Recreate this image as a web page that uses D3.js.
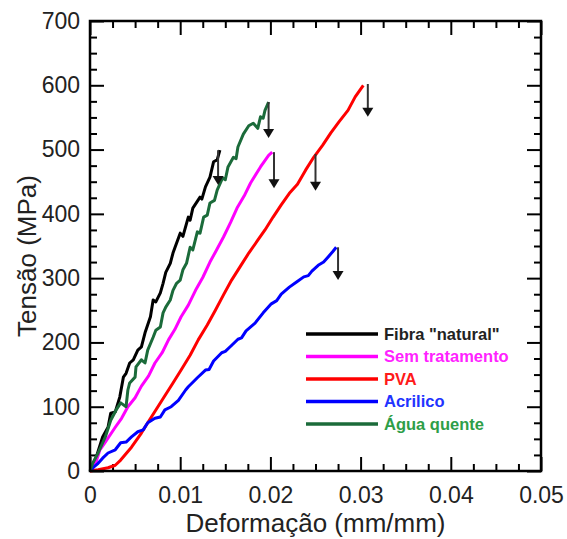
<!DOCTYPE html>
<html>
<head>
  <meta charset="utf-8">
  <title>Tensão x Deformação</title>
  <script src="https://d3js.org/d3.v7.min.js"></script>
  <style>
    body { margin: 0; background: #fff; }
    .axis text { font-family: "Liberation Sans", Arial, sans-serif; font-size: 23px; fill: #222; }
    .axis path { display: none; }
    .axis line { stroke: #000; stroke-width: 2; }
    .title { font-family: "Liberation Sans", Arial, sans-serif; font-size: 26px; fill: #222; }
    .legend text { font-family: "Liberation Sans", Arial, sans-serif; font-size: 16.5px; font-weight: bold; }
  </style>
</head>
<body>
  <svg id="chart"></svg>

  <script>
    // Series: [strain (mm/mm), stress (MPa)]
    const natural = [
      [0, 0], [0.0001, 2], [0.0007, 22], [0.0014, 53], [0.002, 68], [0.0023, 90],
      [0.0028, 92], [0.0033, 115], [0.0037, 146], [0.004, 152], [0.0044, 168],
      [0.0048, 173], [0.0053, 188], [0.0057, 193], [0.0061, 215], [0.0067, 240],
      [0.007, 266], [0.0073, 263], [0.0078, 277], [0.0081, 292], [0.0084, 309],
      [0.0089, 323], [0.0092, 339], [0.0094, 347], [0.01, 370], [0.0103, 365],
      [0.0109, 395], [0.0111, 390], [0.0114, 409], [0.0122, 426], [0.0124, 423],
      [0.0128, 442], [0.0133, 457], [0.0137, 481], [0.0141, 484], [0.0144, 499]
    ];
    const semTratamento = [
      [0, 0], [0.0006, 11], [0.0011, 33], [0.0017, 45], [0.0028, 68], [0.0035, 82],
      [0.0042, 100], [0.005, 114], [0.0057, 132], [0.0065, 148], [0.0072, 168],
      [0.008, 184], [0.0087, 204], [0.0094, 220], [0.0101, 240], [0.0109, 258],
      [0.0117, 281], [0.0125, 301], [0.0133, 325], [0.014, 343], [0.0148, 364],
      [0.0156, 387], [0.0163, 409], [0.0171, 428], [0.0178, 448], [0.0189, 473],
      [0.0198, 491], [0.0202, 496]
    ];
    const pva = [
      [0, 0], [0.0009, 2], [0.002, 5], [0.0028, 9], [0.0034, 17], [0.0046, 37],
      [0.0057, 59], [0.0064, 75], [0.0073, 95], [0.0083, 117], [0.0092, 137],
      [0.0101, 157], [0.0111, 180], [0.012, 204], [0.013, 227], [0.0139, 250],
      [0.0148, 274], [0.0157, 297], [0.0167, 319], [0.0176, 339], [0.0186, 359],
      [0.0194, 375], [0.0203, 395], [0.0212, 414], [0.0221, 432], [0.023, 446],
      [0.0239, 468], [0.0248, 488], [0.0258, 507], [0.0267, 526], [0.0276, 543],
      [0.0286, 561], [0.0294, 582], [0.0303, 600]
    ];
    const acrilico = [
      [0, 0], [0.0004, 6], [0.0009, 12], [0.0014, 20], [0.002, 28], [0.0028, 33],
      [0.0034, 44], [0.004, 45], [0.0046, 53], [0.0053, 61], [0.0059, 64],
      [0.0064, 75], [0.0072, 82], [0.0078, 84], [0.0083, 95], [0.009, 100],
      [0.0098, 110], [0.0106, 126], [0.0109, 131], [0.0119, 145], [0.0128, 157],
      [0.0132, 158], [0.0137, 171], [0.0146, 184], [0.015, 186], [0.0156, 194],
      [0.0164, 205], [0.0168, 207], [0.0173, 218], [0.0183, 230], [0.0192, 246],
      [0.0201, 260], [0.0207, 265], [0.0212, 275], [0.0221, 286], [0.0229, 294],
      [0.0237, 302], [0.0242, 304], [0.0246, 311], [0.0253, 320], [0.0259, 325],
      [0.0264, 333], [0.0269, 341], [0.0273, 348]
    ];
    const aguaQuente = [
      [0, 0], [0.0003, 12], [0.0009, 28], [0.0017, 53], [0.0023, 79], [0.0029, 95],
      [0.0034, 106], [0.004, 100], [0.0042, 126], [0.0044, 137], [0.005, 146],
      [0.0051, 162], [0.0057, 173], [0.0061, 168], [0.0064, 188], [0.007, 208],
      [0.0073, 219], [0.0078, 224], [0.0081, 246], [0.0084, 255], [0.0089, 266],
      [0.0092, 281], [0.0096, 292], [0.01, 297], [0.0103, 313], [0.0107, 323],
      [0.0111, 348], [0.0114, 344], [0.0119, 372], [0.0122, 370], [0.0126, 395],
      [0.013, 398], [0.0133, 417], [0.0138, 421], [0.0141, 437], [0.0147, 456],
      [0.015, 453], [0.0153, 473], [0.0159, 488], [0.0162, 486], [0.0164, 504],
      [0.017, 524], [0.0176, 537], [0.0181, 541], [0.0186, 533], [0.0189, 551],
      [0.0192, 549], [0.0194, 561], [0.0198, 574]
    ];

    const seriesNames = ["Fibra \"natural\"", "Sem tratamento", "PVA", "Acrilico", "Água quente"];
    const seriesData = [natural, semTratamento, pva, acrilico, aguaQuente];
    const lineColors = ["#000000", "#ff00ff", "#ff0000", "#0000ff", "#1b6b3a"];
    const textColors = ["#222222", "#ff22ff", "#ff1a1a", "#2233ff", "#2e9e48"];

    // Failure arrows: strain, top stress, bottom stress
    const arrowX = [0.0142, 0.0204, 0.0198, 0.025, 0.0308, 0.0275];
    const arrowTop = [499, 496, 574, 493, 602, 348];
    const arrowBottom = [445, 440, 518, 436, 551, 297];

    const xTicks = [0, 0.01, 0.02, 0.03, 0.04, 0.05];
    const yTicks = [0, 100, 200, 300, 400, 500, 600, 700];

    const width = 567, height = 539;
    const margin = { top: 21, right: 26, bottom: 68, left: 90 };
    const w = width - margin.left - margin.right;
    const h = height - margin.top - margin.bottom;

    const svg = d3.select("#chart").attr("width", width).attr("height", height);
    const g = svg.append("g").attr("transform", `translate(${margin.left},${margin.top})`);

    const x = d3.scaleLinear().domain([0, 0.05]).range([0, w]);
    const y = d3.scaleLinear().domain([0, 700]).range([h, 0]);

    const xMinor = d3.range(0, 0.05001, 0.0025).filter(v => Math.abs(v / 0.01 - Math.round(v / 0.01)) > 1e-6);
    const yMinor = d3.range(0, 701, 25).filter(v => v % 100 !== 0);

    // minor ticks on all sides
    g.append("g").attr("class", "axis").attr("transform", `translate(0,${h})`)
      .call(d3.axisBottom(x).tickValues(xMinor).tickSize(-7).tickFormat(""));
    g.append("g").attr("class", "axis")
      .call(d3.axisTop(x).tickValues(xMinor).tickSize(-7).tickFormat(""));
    g.append("g").attr("class", "axis")
      .call(d3.axisLeft(y).tickValues(yMinor).tickSize(-7).tickFormat(""));
    g.append("g").attr("class", "axis").attr("transform", `translate(${w},0)`)
      .call(d3.axisRight(y).tickValues(yMinor).tickSize(-7).tickFormat(""));

    // major ticks
    g.append("g").attr("class", "axis").attr("transform", `translate(0,${h})`)
      .call(d3.axisBottom(x).tickValues(xTicks).tickSize(-14).tickPadding(16).tickFormat(d => d === 0 ? "0" : d3.format(".2f")(d)));
    g.append("g").attr("class", "axis")
      .call(d3.axisTop(x).tickValues(xTicks).tickSize(-14).tickFormat(""));
    g.append("g").attr("class", "axis")
      .call(d3.axisLeft(y).tickValues(yTicks).tickSize(-14).tickPadding(10).tickFormat(d3.format("d")));
    g.append("g").attr("class", "axis").attr("transform", `translate(${w},0)`)
      .call(d3.axisRight(y).tickValues(yTicks).tickSize(-14).tickFormat(""));

    // curves
    const line = d3.line().x(d => x(d[0])).y(d => y(d[1]));
    g.selectAll(".curve")
      .data(seriesData)
      .enter()
      .append("path")
      .attr("class", "curve")
      .attr("d", line)
      .attr("fill", "none")
      .attr("stroke", (d, i) => lineColors[i])
      .attr("stroke-width", 3)
      .attr("stroke-linejoin", "round");

    // arrows
    arrowX.forEach((ax, i) => {
      const px = x(ax), y0 = y(arrowTop[i]), y1 = y(arrowBottom[i]);
      g.append("line")
        .attr("x1", px).attr("x2", px)
        .attr("y1", y0).attr("y2", y1 - 7)
        .attr("stroke", "#333").attr("stroke-width", 2);
      g.append("path")
        .attr("d", `M${px - 5.5},${y1 - 9}L${px + 5.5},${y1 - 9}L${px},${y1}Z`)
        .attr("fill", "#111");
    });

    // frame
    g.append("rect")
      .attr("width", w).attr("height", h)
      .attr("fill", "none").attr("stroke", "#000").attr("stroke-width", 2.5);

    // legend
    const legend = g.append("g").attr("class", "legend");
    seriesNames.forEach((name, i) => {
      const ly = 313 + i * 22.5;
      legend.append("line")
        .attr("x1", 216).attr("x2", 288)
        .attr("y1", ly).attr("y2", ly)
        .attr("stroke", lineColors[i]).attr("stroke-width", 3.5);
      legend.append("text")
        .attr("x", 294).attr("y", ly).attr("dy", "0.36em")
        .attr("fill", textColors[i])
        .text(name);
    });

    // axis titles
    svg.append("text").attr("class", "title")
      .attr("x", margin.left + w / 2).attr("y", 532)
      .attr("text-anchor", "middle")
      .text("Deformação (mm/mm)");
    svg.append("text").attr("class", "title")
      .attr("transform", `translate(36,${margin.top + h / 2 + 10}) rotate(-90)`)
      .attr("text-anchor", "middle")
      .text("Tensão (MPa)");
  </script>
</body>
</html>
